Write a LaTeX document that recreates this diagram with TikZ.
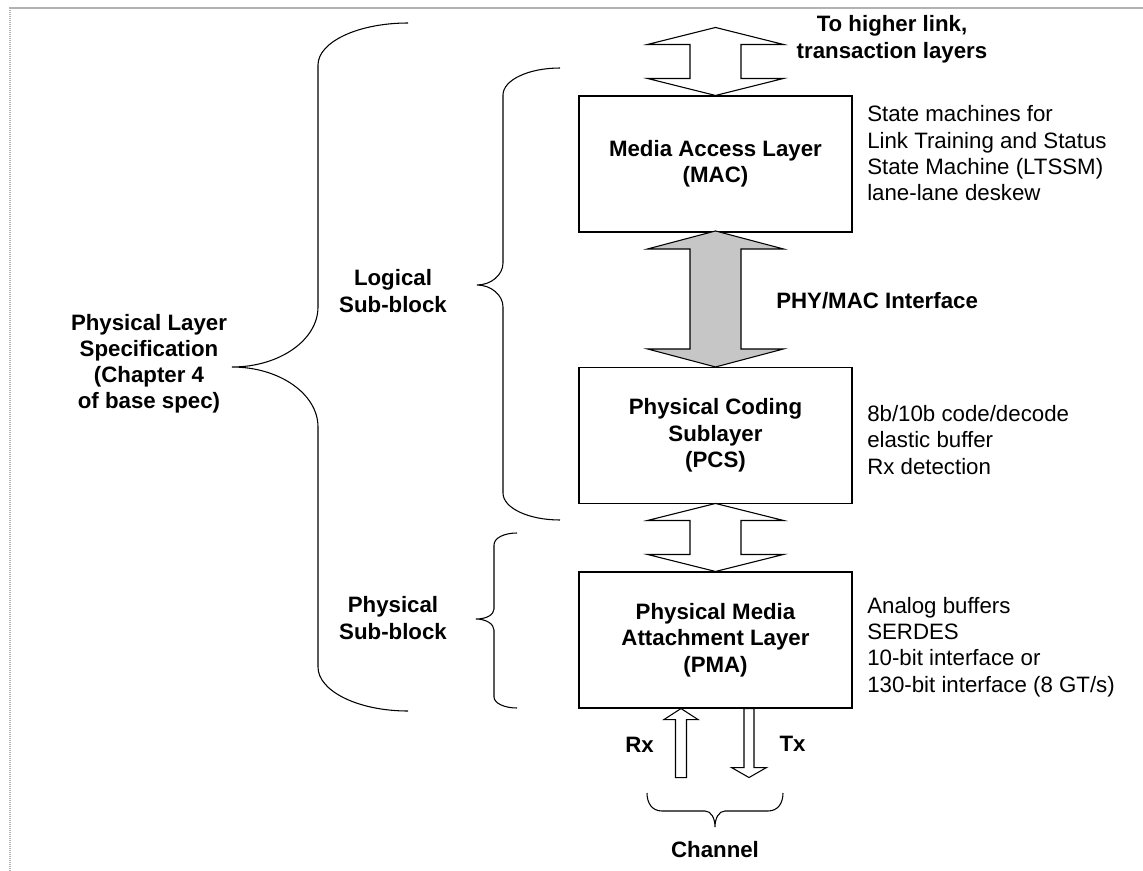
\documentclass[tikz,border=0pt]{standalone}
\usepackage{fontspec}
\setmainfont{Liberation Sans}
\usetikzlibrary{calc}

\begin{document}
\begin{tikzpicture}[x=0.75pt,y=-0.75pt,
  every node/.style={inner sep=0pt},
  lbl/.style={font=\fontsize{16.7}{19.7}\selectfont\bfseries, align=center},
  note/.style={font=\fontsize{16.7}{19.7}\selectfont, align=left, anchor=west},
  layerbox/.style={draw, black, line width=0.8pt, minimum width=204.75pt, minimum height=102pt, lbl},
  blockarrow/.style={draw, black, line width=0.8pt, fill=white},
  brace/.style={draw, black, line width=0.8pt}]
\useasboundingbox (0,0) rectangle (1143,871);
\draw [gray!60, line width=1.2pt] (9,8) -- (1143,8);
\draw [gray!60, line width=1.5pt, dash pattern=on 0.75pt off 0.75pt] (10,8) -- (10,871);

\node [layerbox] (mac) at (715.5,164) {Media Access Layer\\(MAC)};
\node [layerbox] (pcs) at (715.5,435.5) {Physical Coding\\Sublayer\\(PCS)};
\node [layerbox] (pma) at (715.5,640) {Physical Media\\Attachment Layer\\(PMA)};

\node [lbl] (upper) at (892,39.3) {To higher link,\\transaction layers};
\node [lbl, anchor=west] (iface) at (776,301) {PHY/MAC Interface};
\node [note] (macnote) at (867,153.4) {State machines for\\Link Training and Status\\State Machine (LTSSM)\\lane-lane deskew};
\node [note] (pcsnote) at (867,440) {8b/10b code/decode\\elastic buffer\\Rx detection};
\node [note] (pmanote) at (867,647) {Analog buffers\\SERDES\\10-bit interface or\\130-bit interface (8 GT/s)};

\node [lbl] (physpec) at (149,363.7) {Physical Layer\\Specification\\(Chapter 4\\of base spec)};
\node [lbl] (logical) at (393,291) {Logical\\Sub-block};
\node [lbl] (physical) at (393,618) {Physical\\Sub-block};
\node [lbl] (rx) at (639.5,744.5) {Rx};
\node [lbl] (tx) at (792.5,743.5) {Tx};
\node [lbl] (channel) at (715,849.5) {Channel};

% block arrows between the layers
\draw [blockarrow] (mac.north) -- ++(68,-17) -- ++(-42.5,0) -- ++(0,-34) -- ++(42.5,0) -- ++(-68,-17)
  -- ++(-68,17) -- ++(42.5,0) -- ++(0,34) -- ++(-42.5,0) -- cycle;
\draw [blockarrow, fill=gray!45] (pcs.north) -- ++(68,-18) -- ++(-42.5,0) -- ++(0,-100) -- ++(42.5,0) -- ++(-68,-18)
  -- ++(-68,18) -- ++(42.5,0) -- ++(0,100) -- ++(-42.5,0) -- cycle;
\draw [blockarrow] (pma.north) -- ++(68,-17) -- ++(-42.5,0) -- ++(0,-34) -- ++(42.5,0) -- ++(-68,-17)
  -- ++(-68,17) -- ++(42.5,0) -- ++(0,34) -- ++(-42.5,0) -- cycle;
\draw [blockarrow] ($(pma.south)+(-34.5,0)$) -- ++(17,11) -- ++(-11.5,0) -- ++(0,58) -- ++(-11,0) -- ++(0,-58) -- ++(-11.5,0) -- cycle;
\draw [blockarrow] ($(pma.south)+(28.5,0)$) -- ++(0,59) -- ++(-12.5,0) -- ++(17.5,10) -- ++(17.5,-10) -- ++(-12.5,0) -- ++(0,-59) -- cycle;

% braces
\draw [brace] (408,23) .. controls (358,23) and (318,42) .. (318,65) -- (318,307)
  .. controls (318,340) and (279.5,367) .. (232,367) .. controls (279.5,367) and (318,394) .. (318,427)
  -- (318,667) .. controls (318,691) and (358,711) .. (408,711);
\draw [brace] (560,68) .. controls (528.5,68) and (503,80) .. (503,95) -- (503,263)
  .. controls (503,275) and (491,285) .. (477,285) .. controls (491,285) and (503,295) .. (503,307)
  -- (503,493) .. controls (503,508) and (528.5,520) .. (560,520);
\draw [brace] (517,533) .. controls (504,533) and (494,538) .. (494,545) -- (494,609)
  .. controls (494,615) and (486,619) .. (476,619) .. controls (486,619) and (494,624) .. (494,630)
  -- (494,697) .. controls (494,703) and (504,708) .. (517,708);
\draw [brace] (647,793) .. controls (647,803) and (652,811) .. (662,811) -- (705,811)
  .. controls (711,811) and (715,818) .. (715,827) .. controls (715,818) and (719,811) .. (725,811)
  -- (768,811) .. controls (778,811) and (783,803) .. (783,793);
\end{tikzpicture}
\end{document}
